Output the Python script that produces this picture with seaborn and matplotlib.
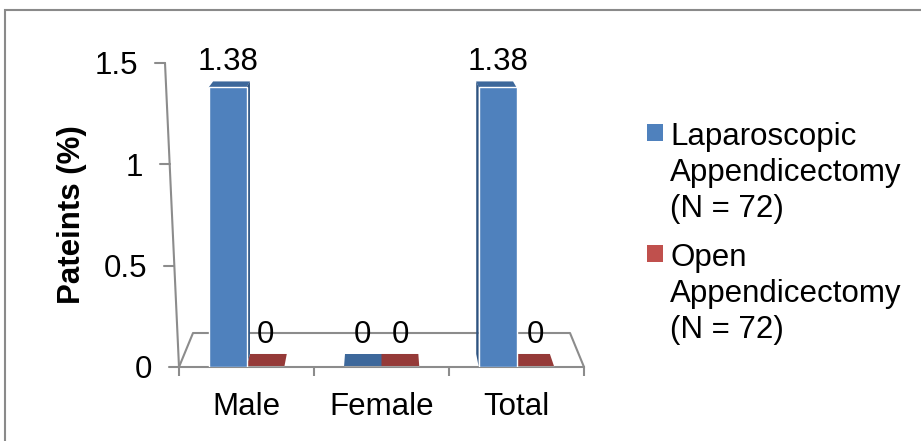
import numpy as np
import pandas as pd
import matplotlib
matplotlib.use("Agg")
import matplotlib.pyplot as plt
from matplotlib.patches import Polygon, Rectangle
import seaborn as sns

# Chart data
categories = ["Male", "Female", "Total"]
series = ["Laparoscopic\nAppendicectomy\n(N = 72)", "Open\nAppendicectomy\n(N = 72)"]
laparoscopic = [1.38, 0, 1.38]
open_surgery = [0, 0, 0]
y_ticks = [0, 0.5, 1, 1.5]
y_tick_labels = ["0", "0.5", "1", "1.5"]

# Styling
front_colors = ["#4F81BD", "#C0504D"]
top_colors = ["#3D689B", "#953A38"]
side_colors = ["#2E5380", "#7A2D2B"]
axis_gray = "#8C8C8C"
FS = 22.5

sns.set_theme(style="white")
plt.rcParams["font.family"] = ["Liberation Sans", "DejaVu Sans"]

df = pd.DataFrame({
    "category": categories * 2,
    "group": [series[0]] * len(categories) + [series[1]] * len(categories),
    "value": laparoscopic + open_surgery,
})

W, H = 921, 441
fig = plt.figure(figsize=(W / 100, H / 100), dpi=100)
ax = fig.add_axes([179 / W, (H - 367) / H, 405 / W, 304 / H])

sns.barplot(data=df, x="category", y="value", hue="group", order=categories,
            hue_order=series, palette=front_colors, saturation=1, width=0.56,
            errorbar=None, legend=False, ax=ax, zorder=3)
ax.set_xlim(-0.5, 2.5)
ax.set_ylim(0, 1.5)

# pseudo-3D perspective: faces recede toward a vanishing point
vx, vy, k = 1.0, 2.52, 0.0255
def back(x, y):
    return x + (vx - x) * k, y + (vy - y) * k

# floor outline (left, back and right edges)
bl = (-0.5 + 14 / 135, 34 / 202.7)
br = (2.5 - 14 / 135, 34 / 202.7)
ax.plot([-0.5, bl[0], br[0], 2.5], [0, bl[1], br[1], 0], color=axis_gray,
        lw=1.5, clip_on=False, zorder=0.5)

for cont, tc, sc in zip(ax.containers, top_colors, side_colors):
    for bar in cont:
        x0, w, h = bar.get_x(), bar.get_width(), bar.get_height()
        x1 = x0 + w
        top = [(x0, h), (x1, h), back(x1, h), back(x0, h)]
        ax.add_patch(Polygon(top, closed=True, facecolor=tc, edgecolor="none",
                             zorder=2.5, clip_on=False))
        if h > 0:
            if x1 < vx - 1e-6:
                side = [(x1, 0), (x1, h), back(x1, h), back(x1, 0)]
            else:
                side = [(x0, 0), (x0, h), back(x0, h), back(x0, 0)]
            ax.add_patch(Polygon(side, closed=True, facecolor=sc,
                                 edgecolor="none", zorder=2.6, clip_on=False))
        ax.annotate(f"{h:g}", (x0 + w / 2, back(x0, h)[1]), xytext=(0, 3),
                    textcoords="offset points", ha="center", va="bottom",
                    fontsize=FS, color="black", zorder=5, annotation_clip=False)

# slanted value axis with ticks
top_off = 14 / 135
ax.plot([-0.5 - top_off, -0.5], [1.5, 0], color=axis_gray, lw=1.5,
        clip_on=False, zorder=1)
for v, lab in zip(y_ticks, y_tick_labels):
    xa = -0.5 - top_off * v / 1.5
    ax.plot([xa - 10 / 135, xa], [v, v], color=axis_gray, lw=1.5,
            clip_on=False, zorder=1)
    ax.text(xa - 27 / 135, v, lab, ha="right", va="center_baseline",
            fontsize=FS, color="black")
ax.set_yticks([])

for s in ["left", "top", "right"]:
    ax.spines[s].set_visible(False)
ax.spines["bottom"].set_color(axis_gray)
ax.spines["bottom"].set_linewidth(1.5)

ax.set_xlabel("")
ax.set_xticks(range(len(categories)))
ax.set_xticklabels(categories)
ax.set_xticks([-0.5, 0.5, 1.5, 2.5], minor=True)
ax.tick_params(axis="x", which="major", length=0, pad=18, labelsize=FS,
               labelcolor="black")
ax.tick_params(axis="x", which="minor", bottom=True, length=6.5, width=1.5,
               color=axis_gray, direction="out")

ax.set_ylabel("Pateints (%)", fontsize=FS, fontweight="bold", color="black")
ax.yaxis.set_label_coords(-0.227, 0.5)

# legend
legend_tops = [122, 243]
for lab, col, ty in zip(series, front_colors, legend_tops):
    fig.add_artist(Rectangle((647 / W, 1 - (ty + 19) / H), 16 / W, 17 / H,
                             transform=fig.transFigure, facecolor=col,
                             edgecolor="none"))
    fig.text(670 / W, 1 - ty / H, lab, ha="left", va="top", fontsize=FS,
             linespacing=1.26, color="black")

# chart area border
fig.add_artist(Rectangle((5 / W, -0.05), 1.0, (H - 10) / H + 0.05,
                         transform=fig.transFigure, fill=False,
                         edgecolor="#8A8A8A", lw=1.5))

fig.savefig("out.png", dpi=100)
